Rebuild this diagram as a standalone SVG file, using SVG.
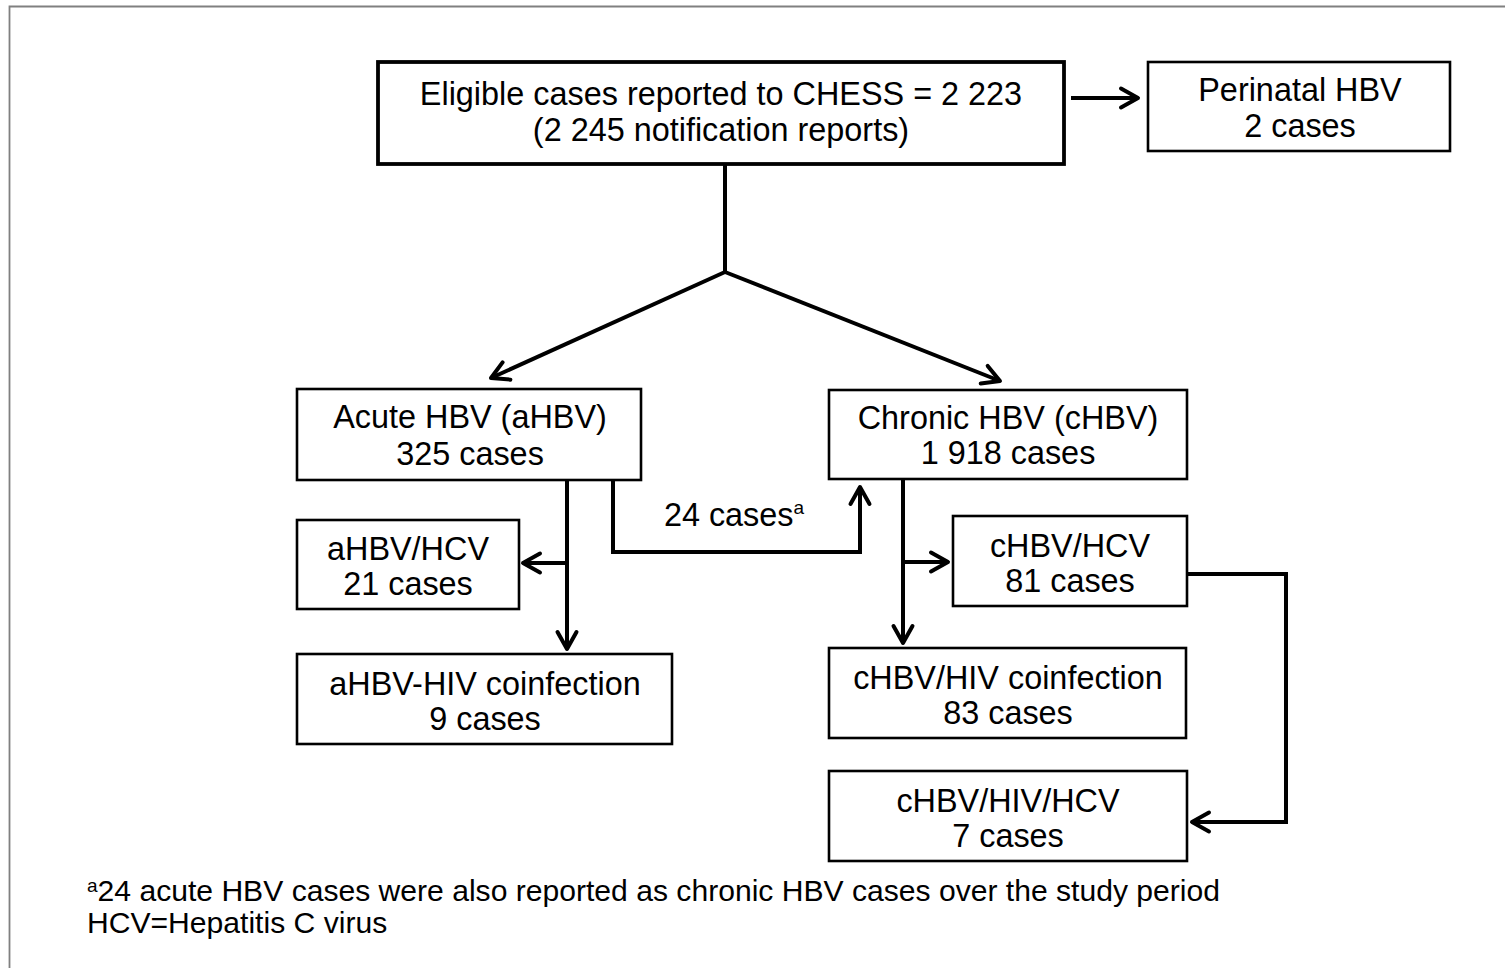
<svg xmlns="http://www.w3.org/2000/svg" width="1505" height="968" viewBox="0 0 1505 968">
<style>
text{font-family:"Liberation Sans",Arial,sans-serif;fill:#000;}
.t{font-size:32.4px;text-anchor:middle;}
.f{font-size:30.1px;}
.sup{font-size:19px;}
.box{fill:#fff;stroke:#000;stroke-width:2.6;}
.thick{stroke-width:3.8;}
.c{fill:none;stroke:#000;stroke-width:4;stroke-linejoin:miter;}
</style>
<defs>
<marker id="ah" markerUnits="userSpaceOnUse" viewBox="0 0 26 26" markerWidth="26" markerHeight="26" refX="22" refY="13" orient="auto">
<path d="M5,3.5 L22,13 L5,22.5" fill="none" stroke="#000" stroke-width="4" stroke-linecap="round" stroke-linejoin="round"/>
</marker>
</defs>
<rect width="1505" height="968" fill="#fff"/>
<path d="M9.5,968 V6.5 H1505" fill="none" stroke="#808080" stroke-width="1.8"/>
<g id="connectors">
<path class="c" d="M1071,98 H1138" marker-end="url(#ah)"/>
<path class="c" d="M725,164 V272"/>
<path class="c" d="M725,272 L491,378" marker-end="url(#ah)"/>
<path class="c" d="M725,272 L1000,381" marker-end="url(#ah)"/>
<path class="c" d="M567,480 V649" marker-end="url(#ah)"/>
<path class="c" d="M567,563 H523" marker-end="url(#ah)"/>
<path class="c" d="M613,480 V552 H860 V487" marker-end="url(#ah)"/>
<path class="c" d="M903,479 V643" marker-end="url(#ah)"/>
<path class="c" d="M905,562 H948" marker-end="url(#ah)"/>
<path class="c" d="M1187,574 H1286 V822 H1192" marker-end="url(#ah)"/>
<text class="t" x="734" y="526">24 cases<tspan class="sup" dy="-12">a</tspan></text>
</g>
<g id="main">
<rect class="box thick" x="378" y="62" width="686" height="102"/>
<text class="t" x="721" y="105">Eligible cases reported to CHESS = 2 223</text>
<text class="t" x="721" y="141">(2 245 notification reports)</text>
</g>
<g id="perinatal">
<rect class="box" x="1148" y="62" width="302" height="89"/>
<text class="t" x="1300" y="101">Perinatal HBV</text>
<text class="t" x="1300" y="137">2 cases</text>
</g>
<g id="acute">
<rect class="box" x="297" y="389" width="344" height="91"/>
<text class="t" x="470" y="428">Acute HBV (aHBV)</text>
<text class="t" x="470" y="465">325 cases</text>
</g>
<g id="chronic">
<rect class="box" x="829" y="390" width="358" height="89"/>
<text class="t" x="1008" y="429">Chronic HBV (cHBV)</text>
<text class="t" x="1008" y="464">1 918 cases</text>
</g>
<g id="ahbv-hcv">
<rect class="box" x="297" y="520" width="222" height="89"/>
<text class="t" x="408" y="560">aHBV/HCV</text>
<text class="t" x="408" y="595">21 cases</text>
</g>
<g id="ahbv-hiv">
<rect class="box" x="297" y="654" width="375" height="90"/>
<text class="t" x="485" y="695">aHBV-HIV coinfection</text>
<text class="t" x="485" y="730">9 cases</text>
</g>
<g id="chbv-hcv">
<rect class="box" x="953" y="516" width="234" height="90"/>
<text class="t" x="1070" y="557">cHBV/HCV</text>
<text class="t" x="1070" y="592">81 cases</text>
</g>
<g id="chbv-hiv">
<rect class="box" x="829" y="648" width="357" height="90"/>
<text class="t" x="1008" y="689">cHBV/HIV coinfection</text>
<text class="t" x="1008" y="724">83 cases</text>
</g>
<g id="chbv-hiv-hcv">
<rect class="box" x="829" y="771" width="358" height="90"/>
<text class="t" x="1008" y="812">cHBV/HIV/HCV</text>
<text class="t" x="1008" y="847">7 cases</text>
</g>
<g id="footnote">
<text class="f" x="87" y="901"><tspan class="sup" dy="-9">a</tspan><tspan dy="9">24 acute HBV cases were also reported as chronic HBV cases over the study period</tspan></text>
<text class="f" x="87" y="933">HCV=Hepatitis C virus</text>
</g>
</svg>
